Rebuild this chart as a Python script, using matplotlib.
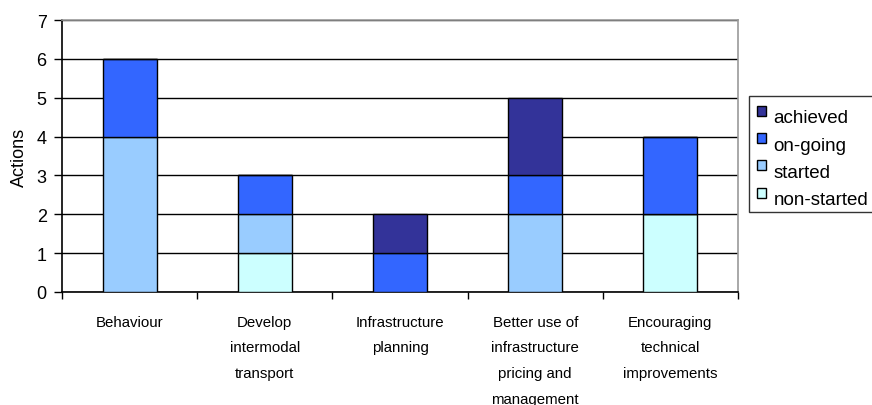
import matplotlib.pyplot as plt
import numpy as np
from matplotlib.transforms import Affine2D

plt.rcParams["font.family"] = ["Liberation Sans", "DejaVu Sans"]

categories = [
    "Behaviour",
    "Develop\nintermodal\ntransport",
    "Infrastructure\nplanning",
    "Better use of\ninfrastructure\npricing and\nmanagement",
    "Encouraging\ntechnical\nimprovements",
]
non_started = [0, 1, 0, 0, 2]
started = [4, 1, 0, 2, 0]
on_going = [2, 1, 1, 1, 2]
achieved = [0, 0, 1, 2, 0]

series = [
    ("non-started", non_started, "#CCFFFF"),
    ("started", started, "#99CCFF"),
    ("on-going", on_going, "#3366FF"),
    ("achieved", achieved, "#333399"),
]

fig = plt.figure(figsize=(8.72, 4.06), dpi=100)
ax = fig.add_axes([62 / 872, 1 - 293 / 406, (738 - 62) / 872, (293 - 21) / 406])

x = np.arange(len(categories))
bottom = np.zeros(len(categories))
handles = []
for label, vals, color in series:
    vals = np.array(vals, dtype=float)
    b = ax.bar(x, vals, bottom=bottom, width=0.4, color=color,
               edgecolor="black", linewidth=1.0, label=label, zorder=3)
    handles.append(b)
    bottom += vals

ax.set_xlim(-0.5, len(categories) - 0.5)
ax.set_ylim(0, 7)
ax.set_yticks(range(8))
ax.yaxis.grid(True, color="black", linewidth=1.0, zorder=0)
ax.set_axisbelow(True)

# reference labels are tall and narrow: keep the width, open up the lines
ax.set_xticks(x)
ax.set_xticklabels(categories, fontsize=10.8, linespacing=2.05)
ax.set_xticks(np.arange(-0.5, len(categories)), minor=True)
ax.tick_params(axis="x", which="major", length=0, pad=16.5)
ax.tick_params(axis="x", which="minor", direction="out", length=5, width=1.0)
ax.tick_params(axis="y", direction="out", length=6, width=1.0, labelsize=13, pad=5)
ax.set_ylabel("Actions", fontsize=13, labelpad=6)

for side in ["left", "bottom"]:
    ax.spines[side].set_color("black")
    ax.spines[side].set_linewidth(1.2)
for side in ["top", "right"]:
    ax.spines[side].set_color("#999999")
    ax.spines[side].set_linewidth(1.2)

leg = fig.legend(handles[::-1], [s[0] for s in series][::-1],
                 loc="upper left", bbox_to_anchor=(749 / 872, 1 - 97 / 406),
                 fontsize=13.5, frameon=True, fancybox=False, shadow=False,
                 handlelength=0.45, handleheight=0.45, handletextpad=0.4,
                 borderpad=0.45, labelspacing=0.55, borderaxespad=0)
leg.get_frame().set_edgecolor("black")
leg.get_frame().set_linewidth(1.0)
# labels sit a little below their swatches in the reference
for t in leg.get_texts():
    t.set_transform(t.get_transform() + Affine2D().translate(0, -5))

fig.savefig("out.png", dpi=100)
